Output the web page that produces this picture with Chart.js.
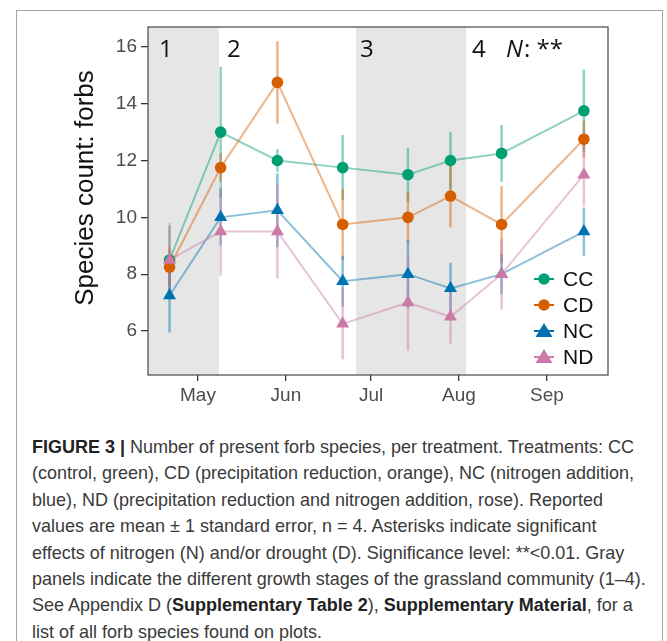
<!DOCTYPE html>
<html>
<head>
<meta charset="utf-8">
<script src="https://cdn.jsdelivr.net/npm/chart.js@4.4.1/dist/chart.umd.min.js"></script>
<style>
  html, body { margin: 0; padding: 0; background: #fff; overflow: hidden; }
  body { width: 667px; height: 641px; position: relative; }
  #frame { position: absolute; left: 16px; top: 10px; width: 647px; height: 700px; border: 1px solid #a6a6a6; box-sizing: border-box; }
  #wrap { position: absolute; left: 0; top: 0; width: 667px; height: 420px; }
  #caption { position: absolute; left: 32px; top: 434px; font-family: "Liberation Sans", Arial, sans-serif;
    font-size: 19px; line-height: 26.4px; color: #3a3a3a; white-space: nowrap;
    transform: scaleX(0.947); transform-origin: left top; }
  #caption b { color: #222; }
</style>
</head>
<body>
<div id="frame"></div>
<div id="wrap"><canvas id="chart" width="667" height="420"></canvas></div>
<div id="caption">
  <div><b>FIGURE 3 |</b> Number of present forb species, per treatment. Treatments: CC</div>
  <div>(control, green), CD (precipitation reduction, orange), NC (nitrogen addition,</div>
  <div>blue), ND (precipitation reduction and nitrogen addition, rose). Reported</div>
  <div>values are mean ± 1 standard error, n = 4. Asterisks indicate significant</div>
  <div>effects of nitrogen (N) and/or drought (D). Significance level: **&lt;0.01. Gray</div>
  <div>panels indicate the different growth stages of the grassland community (1–4).</div>
  <div>See Appendix D (<b>Supplementary Table 2</b>), <b>Supplementary Material</b>, for a</div>
  <div>list of all forb species found on plots.</div>
</div>
<script>
// Sampling dates as day of year
const sampleDays = [111, 129, 149, 172, 195, 210, 228, 257];

// Mean species counts and standard errors per treatment
const ccMean = [8.5, 13, 12, 11.75, 11.5, 12, 12.25, 13.75];
const ccSe   = [1.2, 2.3, 0.4, 1.15, 0.95, 1.0, 1.0, 1.45];
const cdMean = [8.25, 11.75, 14.75, 9.75, 10, 10.75, 9.75, 12.75];
const cdSe   = [0.7, 0.5, 1.45, 1.25, 0.9, 1.1, 1.35, 0.65];
const ncMean = [7.25, 10, 10.25, 7.75, 8, 7.5, 8, 9.5];
const ncSe   = [1.3, 1.0, 1.3, 0.9, 1.2, 0.9, 0.7, 0.85];
const ndMean = [8.5, 9.5, 9.5, 6.25, 7, 6.5, 8, 11.5];
const ndSe   = [1.3, 1.55, 1.65, 1.25, 1.7, 0.95, 1.25, 1.1];

// Axis ticks
const monthTicks = [121, 152, 182, 213, 244];
const monthLabels = ["May", "Jun", "Jul", "Aug", "Sep"];
const countTicks = [6, 8, 10, 12, 14, 16];

// Growth stage panels (gray ones), day of year
const xMin = 103.4, xMax = 265.5;
const grayPanels = [[xMin, 128.4], [176.7, 215.5]];
const stageLabels = ["1", "2", "3", "4"];

const treatments = ["CC", "CD", "NC", "ND"];
const means = [ccMean, cdMean, ncMean, ndMean];
const errors = [ccSe, cdSe, ncSe, ndSe];
const colors = ["0,158,115", "213,94,0", "0,114,178", "204,121,167"];
const shapes = ["circle", "circle", "triangle", "triangle"];

const FONT = '"Liberation Sans", Arial, sans-serif';

function toPoints(ys) {
    return ys.map((y, i) => ({ x: sampleDays[i], y: y }));
}

const datasets = treatments.map((name, i) => ({
    label: name,
    data: toPoints(means[i]),
    borderColor: `rgba(${colors[i]},0.45)`,
    borderWidth: 2,
    backgroundColor: `rgb(${colors[i]})`,
    pointBackgroundColor: `rgb(${colors[i]})`,
    pointBorderColor: `rgb(${colors[i]})`,
    pointBorderWidth: 0,
    pointStyle: shapes[i],
    pointRadius: shapes[i] === "triangle" ? 7.5 : 5.8,
    tension: 0,
    order: 4 - i,
}));

const panelPlugin = {
    id: "panels",
    beforeDraw(chart) {
        const { ctx, chartArea: a, scales: { x } } = chart;
        ctx.save();
        ctx.fillStyle = "#e6e6e6";
        for (const [s, e] of grayPanels) {
            const x0 = Math.max(a.left, x.getPixelForValue(s));
            const x1 = Math.min(a.right, x.getPixelForValue(e));
            ctx.fillRect(x0, a.top, x1 - x0, a.bottom - a.top);
        }
        ctx.restore();
    },
};

const errorBarPlugin = {
    id: "errorBars",
    beforeDatasetsDraw(chart) {
        const { ctx, scales: { x, y } } = chart;
        ctx.save();
        ctx.lineWidth = 2.5;
        for (let i = 0; i < treatments.length; i++) {
            ctx.strokeStyle = `rgba(${colors[i]},0.45)`;
            means[i].forEach((m, j) => {
                const px = x.getPixelForValue(sampleDays[j]);
                ctx.beginPath();
                ctx.moveTo(px, y.getPixelForValue(m - errors[i][j]));
                ctx.lineTo(px, y.getPixelForValue(m + errors[i][j]));
                ctx.stroke();
            });
        }
        ctx.restore();
    },
};

const decorPlugin = {
    id: "decor",
    afterDraw(chart) {
        const { ctx, chartArea: a, scales: { x } } = chart;
        ctx.save();
        // panel border
        ctx.strokeStyle = "#555";
        ctx.lineWidth = 1.3;
        ctx.strokeRect(a.left, a.top, a.right - a.left, a.bottom - a.top);

        // stage numbers
        ctx.fillStyle = "#111";
        ctx.font = '24px "Open Sans", sans-serif';
        ctx.textBaseline = "alphabetic";
        ctx.textAlign = "left";
        const stageX = [
            a.left + 11,
            x.getPixelForValue(grayPanels[0][1]) + 8,
            x.getPixelForValue(grayPanels[1][0]) + 4,
            x.getPixelForValue(grayPanels[1][1]) + 6,
        ];
        stageLabels.forEach((t, i) => ctx.fillText(t, stageX[i], 57));

        // significance
        ctx.font = 'italic 24px "Open Sans", sans-serif';
        ctx.fillText("N", 506, 57);
        const nw = ctx.measureText("N").width;
        ctx.font = '24px "Open Sans", sans-serif';
        ctx.fillText(": **", 506 + nw + 1, 57);

        // y axis title
        ctx.save();
        ctx.translate(93, 188);
        ctx.rotate(-Math.PI / 2);
        ctx.textAlign = "center";
        ctx.textBaseline = "alphabetic";
        ctx.font = "26px " + FONT;
        ctx.fillStyle = "#111";
        ctx.fillText("Species count: forbs", 0, 0);
        ctx.restore();

        // legend
        const legendY = [279, 305, 331, 357];
        treatments.forEach((name, i) => {
            const ly = legendY[i];
            ctx.strokeStyle = `rgb(${colors[i]})`;
            ctx.lineWidth = 2;
            ctx.beginPath();
            ctx.moveTo(534, ly);
            ctx.lineTo(554, ly);
            ctx.stroke();
            ctx.fillStyle = `rgb(${colors[i]})`;
            ctx.beginPath();
            if (shapes[i] === "circle") {
                ctx.arc(544, ly, 5.8, 0, Math.PI * 2);
            } else {
                ctx.moveTo(544, ly - 8);
                ctx.lineTo(552.5, ly + 6);
                ctx.lineTo(535.5, ly + 6);
                ctx.closePath();
            }
            ctx.fill();
            ctx.fillStyle = "#111";
            ctx.font = "21px " + FONT;
            ctx.textBaseline = "middle";
            ctx.fillText(name, 563, ly + 1);
        });
        ctx.restore();
    },
};

new Chart("chart", {
    type: "line",
    data: { datasets: datasets },
    plugins: [panelPlugin, errorBarPlugin, decorPlugin],
    options: {
        responsive: false,
        animation: false,
        layout: { padding: { left: 0, right: 59, top: 27, bottom: 0 } },
        plugins: {
            legend: { display: false },
            tooltip: { enabled: false },
        },
        scales: {
            x: {
                type: "linear",
                min: xMin,
                max: xMax,
                afterBuildTicks: (scale) => { scale.ticks = monthTicks.map(v => ({ value: v })); },
                afterFit: (scale) => { scale.height = 45; },
                grid: { drawOnChartArea: false, drawTicks: true, tickLength: 6, color: "#333", lineWidth: 1.3 },
                border: { display: false },
                ticks: {
                    autoSkip: false,
                    maxRotation: 0,
                    padding: 3,
                    color: "#4d4d4d",
                    font: { size: 19, family: FONT },
                    callback: (v) => monthLabels[monthTicks.indexOf(v)],
                },
            },
            y: {
                min: 4.45,
                max: 16.7,
                afterBuildTicks: (scale) => { scale.ticks = countTicks.map(v => ({ value: v })); },
                afterFit: (scale) => { scale.width = 148; },
                grid: { drawOnChartArea: false, drawTicks: true, tickLength: 7, color: "#333", lineWidth: 1.3 },
                border: { display: false },
                ticks: {
                    padding: 4,
                    color: "#4d4d4d",
                    font: { size: 19, family: FONT },
                },
            },
        },
    },
});
</script>
</body>
</html>
